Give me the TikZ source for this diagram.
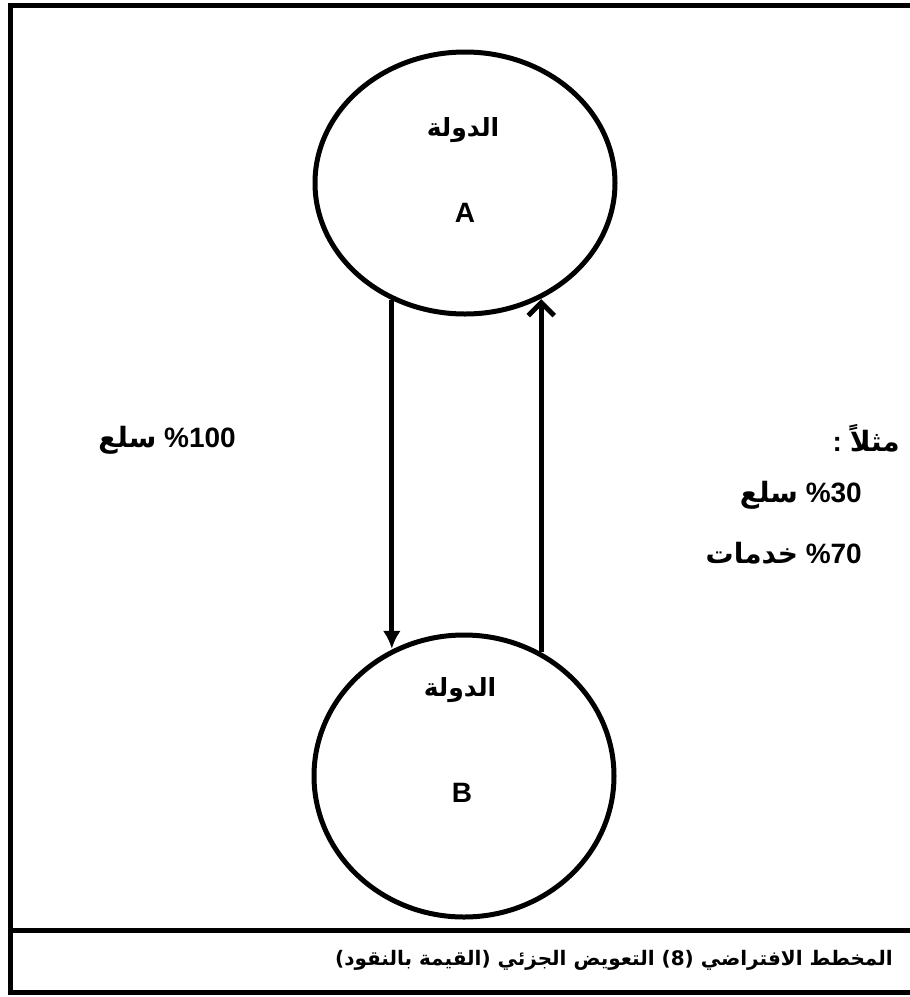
\documentclass[tikz,border=0pt]{standalone}
\usepackage{fontspec}
\setmainfont{Liberation Sans}
\newfontfamily\arabicfont[Script=Arabic]{DejaVu Sans}
\TeXXeTstate=1
\usetikzlibrary{shapes.geometric,arrows.meta}
\tikzset{
  frameline/.style={line width=5pt, line cap=rect},
  state/.style={ellipse, draw, line width=5pt, minimum width=300pt, minimum height=262pt, inner sep=0pt},
  flow/.style={line width=5pt},
  lbl/.style={inner sep=0pt, font=\bfseries\fontsize{28}{32}\selectfont},
  arlbl/.style={inner sep=0pt, font=\arabicfont\bfseries\fontsize{25}{30}\selectfont},
}
\begin{document}
\begin{tikzpicture}[x=1pt,y=-1pt]
\useasboundingbox (0,0) rectangle (910,997);
% outer frame (right side outside the picture)
\draw[frameline] (10,926) -- (10,5) -- (920,5);
% caption box
\draw[frameline] (920,930) -- (10,930) -- (10,992) -- (920,992);

\node[state] (A) at (465,183) {};
\node[state, minimum height=282pt] (B) at (464,776) {};

\node[arlbl] (tA) at (463,130) {\beginR الدولة\endR};
\node[lbl] (lA) at (465,213) {A};
\node[arlbl] (tB) at (460,690) {\beginR الدولة\endR};
\node[lbl] (lB) at (462,793) {B};

\draw[flow, -{Latex[length=18pt,width=18pt]}] (A.238.4) -- (A.238.4 |- B.119.4);
\draw[flow, -{Straight Barb[length=13pt,width=26pt,line width=5pt]}] (B.58.2) -- (B.58.2 |- A.303.5);

\node[lbl, anchor=east] (left) at (236,440) {\beginR\beginL\%100\endL\ {\arabicfont سلع}\endR};

\node[lbl, anchor=east] (ex) at (900,438) {\beginR{\arabicfont مثلاً} :\endR};
\node[lbl, anchor=east] (g30) at (862,495) {\beginR\beginL\%30\endL\ {\arabicfont سلع}\endR};
\node[lbl, anchor=east] (s70) at (862,553) {\beginR\beginL\%70\endL\ {\arabicfont خدمات}\endR};

\node[inner sep=0pt, anchor=east, font=\arabicfont\bfseries\fontsize{20}{24}\selectfont] (cap) at (893,960)
  {\beginR المخطط الافتراضي (8) التعويض الجزئي (القيمة بالنقود)\endR};
\end{tikzpicture}
\end{document}
